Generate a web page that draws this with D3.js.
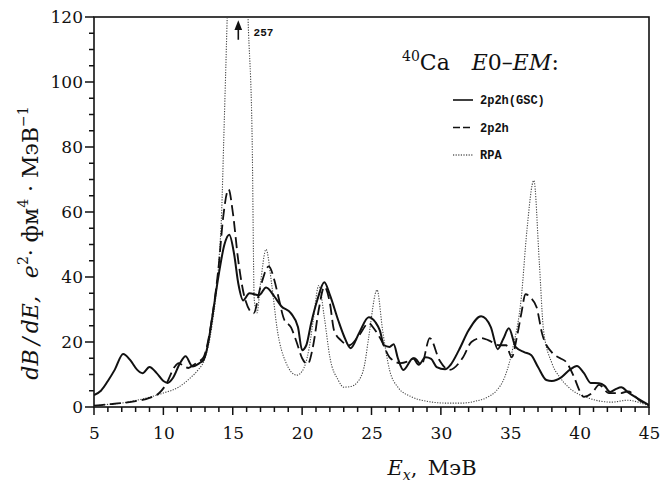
<!DOCTYPE html>
<html>
<head>
<meta charset="utf-8">
<script src="https://cdn.jsdelivr.net/npm/d3@7"></script>
<style>
  body { margin: 0; background: #fff; }
  svg { display: block; }
</style>
</head>
<body>
<svg id="chart" width="661" height="485"></svg>
<script>
// 2p2h(GSC) - solid
let gscE = [5.0, 5.5, 6.0, 6.5, 7.1, 7.6, 8.1, 8.5, 9.0, 9.5, 10.0, 10.3, 10.7, 11.2, 11.6, 12.1, 12.6, 12.9,
  13.2, 13.5, 14.0, 14.4, 14.75, 15.1, 15.4, 15.75, 16.2, 16.9, 17.4, 18.0, 18.5, 19.2, 19.7, 20.0, 20.3, 20.65,
  21.1, 21.6, 22.0, 22.6, 23.0, 23.5, 24.1, 24.8, 25.3, 25.6, 25.9, 26.3, 26.6, 26.9, 27.3, 28.0, 28.4, 28.9,
  29.3, 29.7, 30.3, 30.7, 31.3, 32.0, 32.9, 33.6, 34.1, 34.5, 34.9, 35.4, 36.0, 36.5, 37.0, 37.6, 38.0, 38.7,
  39.3, 39.8, 40.3, 40.8, 41.4, 41.8, 42.2, 42.6, 43.0, 43.5, 44.0, 44.5, 45.0];
let gscB = [3.7, 5.0, 8.0, 11.5, 16.3, 14.5, 11.5, 10.4, 12.3, 10.5, 8.0, 7.4, 9.0, 13.5, 15.6, 12.5, 13.5, 14.5,
  19.0, 27.0, 41.0, 50.0, 53.0, 47.0, 38.0, 32.8, 35.0, 34.4, 36.8, 34.0, 31.0, 28.8, 24.6, 17.5, 19.0, 25.8,
  33.0, 38.4, 34.5, 26.7, 22.0, 18.1, 22.7, 27.6, 26.0, 23.6, 19.0, 18.5, 19.3, 15.0, 11.4, 15.0, 13.0, 15.3,
  14.8, 12.3, 11.6, 13.0, 17.5, 23.6, 27.9, 24.6, 17.8, 21.0, 24.2, 18.4, 16.9, 16.0, 12.3, 8.3, 8.0, 9.2,
  11.5, 12.6, 10.5, 7.4, 7.3, 6.5, 4.6, 5.5, 6.1, 4.5, 3.1, 1.8, 0.6];

// 2p2h - dashed
let p2hE = [5.0, 6.0, 7.0, 8.0, 9.0, 9.7, 10.2, 10.8, 11.1, 11.5, 11.8, 12.2, 12.5, 12.9, 13.3, 13.6, 14.0, 14.3,
  14.7, 15.0, 15.4, 15.9, 16.5, 17.0, 17.6, 18.0, 18.3, 18.7, 19.2, 19.6, 20.0, 20.4, 20.8, 21.2, 21.6, 22.0,
  22.3, 22.8, 23.4, 24.1, 24.8, 25.2, 25.7, 26.3, 27.1, 27.6, 28.1, 28.6, 29.2, 29.9, 30.6, 31.6, 32.2, 32.9,
  33.4, 34.2, 34.7, 35.1, 35.5, 35.8, 36.1, 36.5, 36.9, 37.3, 38.0, 38.6, 39.0, 39.6, 40.0, 40.3, 40.9, 41.4,
  42.1, 43.0, 43.5, 44.3, 45.0];
let p2hB = [0.4, 0.8, 1.2, 1.8, 2.8, 4.3, 7.0, 12.3, 13.5, 12.5, 12.0, 13.0, 13.8, 15.3, 22.0, 30.0, 44.0, 58.0,
  67.0, 60.0, 45.0, 33.0, 28.8, 37.0, 43.3, 39.0, 33.7, 27.0, 24.5, 20.0, 15.0, 13.2, 19.0, 30.0, 37.0, 32.0,
  23.6, 20.5, 19.0, 22.0, 25.8, 24.0, 20.6, 15.3, 13.5, 14.0, 15.0, 13.0, 21.2, 14.4, 11.4, 15.3, 20.0, 21.2,
  20.6, 19.0, 19.0, 15.3, 22.0, 28.8, 34.7, 33.5, 30.7, 22.5, 16.8, 15.0, 14.0, 9.2, 5.0, 3.1, 4.3, 6.8,
  4.3, 4.3, 4.8, 2.1, 0.5];

// RPA - dotted (peak at 15.4 MeV reaches 257)
let rpaE = [5.0, 6.0, 7.0, 8.0, 9.0, 10.0, 11.1, 12.0, 12.5, 13.0, 13.5, 14.0, 14.2, 14.35, 14.6, 15.4, 16.1,
  16.4, 16.55, 16.75, 17.0, 17.4, 17.8, 18.2, 18.8, 19.6, 20.0, 20.5, 20.8, 21.2, 21.6, 22.0, 22.6, 23.0, 23.5,
  24.0, 24.5, 24.8, 25.4, 25.8, 26.3, 26.9, 27.9, 28.6, 30.4, 31.5, 32.5, 33.4, 34.0, 34.6, 35.2, 35.8, 36.2,
  36.7, 37.1, 37.4, 38.0, 38.6, 39.2, 40.6, 42.3, 43.5, 44.2, 45.0];
let rpaB = [0.3, 0.8, 1.2, 2.0, 3.0, 4.3, 6.1, 9.2, 11.4, 15.0, 25.0, 45.0, 60.0, 82.0, 120.0, 257.0, 120.0,
  82.0, 33.0, 29.0, 38.0, 48.5, 38.0, 24.0, 14.0, 9.8, 11.0, 18.0, 26.7, 37.4, 27.6, 15.3, 8.3, 6.1, 6.3,
  7.7, 13.0, 21.5, 36.0, 23.6, 11.4, 6.1, 3.1, 2.1, 1.2, 1.2, 1.8, 3.1, 5.0, 9.2, 18.4, 33.8, 54.3,
  69.7, 44.0, 23.6, 13.5, 9.0, 6.1, 2.8, 1.5, 2.1, 1.5, 0.3];

let xTicks = [5, 10, 15, 20, 25, 30, 35, 40, 45];
let yTicks = [0, 20, 40, 60, 80, 100, 120];
let xMinorTicks = d3.range(5, 46, 1);
let yMinorTicks = d3.range(0, 121, 5);
let legendNames = ["2p2h(GSC)", "2p2h", "RPA"];

let svg = d3.select("#chart");

let x = d3.scaleLinear().domain([5, 45]).range([94, 649]),
    y = d3.scaleLinear().domain([0, 120]).range([407, 17]);

let serif = "'DejaVu Serif', serif";

svg.append("clipPath").attr("id", "clip")
  .append("rect")
    .attr("x", x(5)).attr("y", y(120))
    .attr("width", x(45) - x(5)).attr("height", y(0) - y(120));

// tick marks (outward), minor and major
let ticks = svg.append("g");

ticks.selectAll("line.xm").data(xMinorTicks).enter().append("line")
    .attr("class", "xm")
    .attr("x1", function(d) { return x(d); }).attr("x2", function(d) { return x(d); })
    .attr("y1", y(0)).attr("y2", function(d) { return y(0) + (xTicks.indexOf(d) >= 0 ? 8 : 5); })
    .style("stroke", "#111").style("stroke-width", "1.5px");

ticks.selectAll("line.ym").data(yMinorTicks).enter().append("line")
    .attr("class", "ym")
    .attr("y1", function(d) { return y(d); }).attr("y2", function(d) { return y(d); })
    .attr("x1", x(5)).attr("x2", function(d) { return x(5) - (yTicks.indexOf(d) >= 0 ? 9 : 5); })
    .style("stroke", "#111").style("stroke-width", "1.5px");

// tick labels
let xAxis = svg.append("g")
    .attr("transform", "translate(0," + y(0) + ")")
    .call(d3.axisBottom(x).tickValues(xTicks).tickSize(0).tickPadding(20).tickFormat(d3.format("d")));
let yAxis = svg.append("g")
    .attr("transform", "translate(" + x(5) + ",0)")
    .call(d3.axisLeft(y).tickValues(yTicks).tickSize(0).tickPadding(11).tickFormat(d3.format("d")));

[xAxis, yAxis].forEach(function(g) {
  g.select(".domain").remove();
  g.selectAll("line").remove();
  g.selectAll("text").attr("font-family", serif).attr("font-size", 17).attr("fill", "#111");
});

// frame
svg.append("rect")
    .attr("x", x(5)).attr("y", y(120))
    .attr("width", x(45) - x(5)).attr("height", y(0) - y(120))
    .attr("fill", "none").attr("stroke", "#111").attr("stroke-width", 1.6);

function series(xs, ys) {
  return xs.map(function(d, i) { return [d, ys[i]]; });
}

let line = d3.line()
    .x(function(d) { return x(d[0]); })
    .y(function(d) { return y(d[1]); })
    .curve(d3.curveMonotoneX);

let plot = svg.append("g").attr("clip-path", "url(#clip)");

plot.append("path")
    .attr("d", line(series(rpaE, rpaB)))
    .attr("fill", "none").attr("stroke", "#444")
    .attr("stroke-width", 1.1).attr("stroke-dasharray", "1.2,1.4");

plot.append("path")
    .attr("d", line(series(p2hE, p2hB)))
    .attr("fill", "none").attr("stroke", "#111")
    .attr("stroke-width", 1.8).attr("stroke-dasharray", "11,5");

plot.append("path")
    .attr("d", line(series(gscE, gscB)))
    .attr("fill", "none").attr("stroke", "#111")
    .attr("stroke-width", 2);

// arrow + label for the off-scale RPA peak
svg.append("defs").append("marker")
    .attr("id", "head").attr("viewBox", "0 0 10 10")
    .attr("refX", 5).attr("refY", 5)
    .attr("markerWidth", 6).attr("markerHeight", 6)
    .attr("orient", "auto")
  .append("path").attr("d", "M0,1L10,5L0,9Z").attr("fill", "#111");

svg.append("line")
    .attr("x1", x(15.4)).attr("x2", x(15.4))
    .attr("y1", y(113)).attr("y2", y(117.5))
    .attr("stroke", "#111").attr("stroke-width", 1.6)
    .attr("marker-end", "url(#head)");

svg.append("text")
    .attr("x", x(16.5)).attr("y", y(114.3))
    .attr("font-family", "'Liberation Mono', monospace").attr("font-weight", "bold")
    .attr("font-size", 11).attr("fill", "#111")
    .text("257");

// title
let title = svg.append("text")
    .attr("x", 402).attr("y", 70)
    .attr("font-family", serif).attr("font-size", 22).attr("fill", "#111");
title.append("tspan").attr("font-size", 14).attr("dy", -9).text("40");
title.append("tspan").attr("dy", 9).text("Ca\u2003");
title.append("tspan").attr("font-style", "italic").text("E");
title.append("tspan").text("0\u2013");
title.append("tspan").attr("font-style", "italic").text("EM");
title.append("tspan").text(":");

// legend
let dashes = [null, "7,3", "1.2,1.4"];
let widths = [1.6, 1.6, 1.1];
let legend = svg.append("g").selectAll("g")
  .data(legendNames)
  .enter().append("g")
    .attr("transform", function(d, i) { return "translate(453," + (100 + i * 27.5) + ")"; });

legend.append("line")
    .attr("x1", 0).attr("x2", 20)
    .attr("stroke", "#111")
    .attr("stroke-width", function(d, i) { return widths[i]; })
    .attr("stroke-dasharray", function(d, i) { return dashes[i]; });

legend.append("text")
    .attr("x", 27).attr("dy", "0.35em")
    .attr("font-family", "'Liberation Mono', monospace").attr("font-weight", "bold")
    .attr("font-size", 12).attr("fill", "#111")
    .text(function(d) { return d; });

// x axis title
let xt = svg.append("text")
    .attr("x", 432).attr("y", 475)
    .attr("text-anchor", "middle")
    .attr("font-family", serif).attr("font-size", 21).attr("fill", "#111");
xt.append("tspan").attr("font-style", "italic").text("E");
xt.append("tspan").attr("font-style", "italic").attr("font-size", 14).attr("dy", 5).text("x");
xt.append("tspan").attr("dy", -5).text(",\u2002МэВ");

// y axis title
let yt = svg.append("text")
    .attr("transform", "translate(38,243) rotate(-90)")
    .attr("text-anchor", "middle")
    .attr("font-family", serif).attr("font-size", 22).attr("fill", "#111");
yt.append("tspan").attr("font-style", "italic").text("dB\u2009/\u2009dE,\u2002 e");
yt.append("tspan").attr("font-size", 14).attr("dy", -10).text("2");
yt.append("tspan").attr("dy", 10).text("\u00b7 фм");
yt.append("tspan").attr("font-size", 14).attr("dy", -10).text("4");
yt.append("tspan").attr("dy", 10).text(" \u00b7 МэВ");
yt.append("tspan").attr("font-size", 14).attr("dy", -10).text("\u22121");
</script>
</body>
</html>
